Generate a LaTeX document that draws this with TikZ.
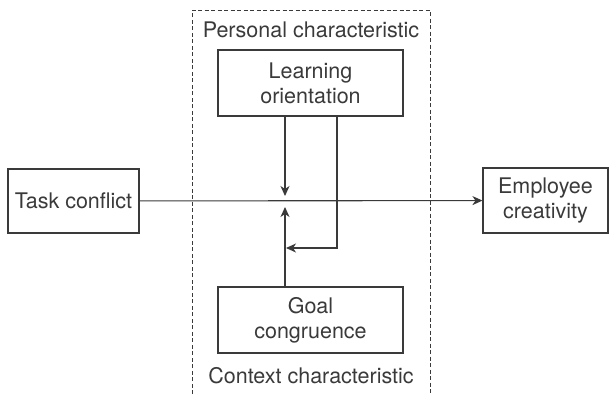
\documentclass[tikz,border=0pt]{standalone}
\usepackage{fontspec}
\setmainfont{TeX Gyre Heros}
\usepackage{tikz}
\usetikzlibrary{arrows.meta}

\definecolor{inkgray}{HTML}{3A3A3A}

\tikzset{
  varbox/.style={draw=inkgray, line width=1.1pt, align=center, inner sep=0pt},
  link/.style={draw=inkgray, line width=1.1pt},
  tip/.style={-{Stealth[length=10pt, width=9pt, inset=3pt]}},
}

\begin{document}
\begin{tikzpicture}[x=1pt, y=-1pt, font=\fontsize{21.5}{25}\selectfont, text=inkgray]
    \useasboundingbox (0,0) rectangle (609,394);
    % moderator frame (open at the bottom)
    \draw [inkgray, line width=0.9pt, dash pattern=on 4pt off 2.5pt]
        (192,394) -- (192,10) -- (430,10) -- (430,394);
    \node (personal) at (311, 30) {Personal characteristic};
    \node (context) at (311, 376) {Context characteristic};
    % variables
    \node [varbox, minimum width=131pt, minimum height=64pt] (task) at (73.5, 201) {Task conflict};
    \node [varbox, minimum width=125pt, minimum height=65pt] (creat) at (545.5, 200.5) {Employee\\creativity};
    \node [varbox, minimum width=185pt, minimum height=66pt] (learn) at (310.5, 83) {Learning\\orientation};
    \node [varbox, minimum width=185pt, minimum height=66pt] (goal) at (310.5, 320) {Goal\\congruence};
    % main effect
    \draw [link, tip] (task) -- (creat);
    % moderation
    \coordinate (downtip) at (285, 196);
    \coordinate (uptip) at (285, 207);
    \coordinate (turn) at (337, 248);
    \coordinate (sidetip) at (286, 248);
    \draw [link, tip] (learn.south -| downtip) -- (downtip);
    \draw [link, tip] (goal.north -| uptip) -- (uptip);
    \draw [link, tip] (learn.south -| turn) -- (turn) -- (sidetip);
\end{tikzpicture}
\end{document}
